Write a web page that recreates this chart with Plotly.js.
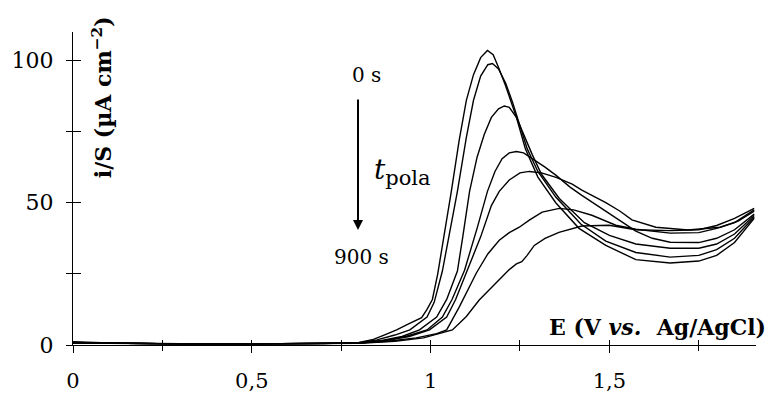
<!DOCTYPE html>
<html>
<head>
<meta charset="utf-8">
<script src="https://cdn.plot.ly/plotly-3.0.1.min.js"></script>
<style>html,body{margin:0;padding:0;background:#fff;}#chart{width:772px;height:394px;}</style>
</head>
<body>
<div id="chart"></div>
<script>
// Potential E (V vs Ag/AgCl) and current density i/S (µA cm-2), one pair per polarisation time
const e0s   = [0, 0.03, 0.1, 0.3, 0.5, 0.7, 0.8, 0.84, 0.87, 0.905, 0.94, 0.975, 0.99, 1.005, 1.02, 1.04, 1.058, 1.08, 1.10, 1.12, 1.14, 1.159, 1.175, 1.19, 1.21, 1.24, 1.265, 1.30, 1.35, 1.415, 1.49, 1.574, 1.67, 1.75, 1.80, 1.85, 1.905];
const i0s   = [1.2, 1.0, 0.7, 0.5, 0.4, 0.5, 0.9, 2.0, 3.5, 5.3, 7.5, 9.6, 12.5, 16, 25, 40, 54, 72, 86, 95, 101, 103.5, 102, 97.5, 91, 80, 69, 59, 50, 41, 35, 30, 28.8, 29.5, 31.5, 36, 44.5];

const e2    = [0, 0.1, 0.3, 0.5, 0.7, 0.8, 0.85, 0.9, 0.942, 0.99, 1.01, 1.033, 1.055, 1.075, 1.10, 1.12, 1.14, 1.16, 1.173, 1.19, 1.21, 1.23, 1.25, 1.27, 1.30, 1.35, 1.42, 1.49, 1.574, 1.67, 1.75, 1.80, 1.85, 1.905];
const i2    = [0.9, 0.6, 0.4, 0.4, 0.5, 0.8, 1.8, 3.5, 5.3, 9.8, 15, 26, 40, 54, 73, 86, 94.5, 98.5, 98.9, 97, 92, 85, 77, 69, 61, 52, 42.5, 36.5, 32.5, 30.9, 31.5, 33.5, 37.5, 45];

const e3    = [0, 0.1, 0.3, 0.5, 0.7, 0.8, 0.86, 0.92, 0.969, 1.017, 1.045, 1.075, 1.09, 1.109, 1.13, 1.15, 1.17, 1.19, 1.206, 1.22, 1.24, 1.26, 1.284, 1.31, 1.36, 1.43, 1.50, 1.574, 1.67, 1.75, 1.80, 1.85, 1.905];
const i3    = [0.8, 0.6, 0.4, 0.4, 0.5, 0.7, 1.5, 3.0, 5.3, 9.8, 16, 26, 38, 54, 66, 74, 80, 83, 84, 83.5, 80, 74, 67, 60, 51.5, 43, 38.5, 35.5, 34, 34, 35.5, 39, 45.5];

const e4    = [0, 0.1, 0.3, 0.5, 0.7, 0.8, 0.87, 0.93, 0.99, 1.033, 1.06, 1.095, 1.13, 1.159, 1.18, 1.20, 1.22, 1.24, 1.26, 1.284, 1.32, 1.351, 1.39, 1.423, 1.46, 1.50, 1.574, 1.62, 1.67, 1.75, 1.80, 1.85, 1.905];
const i4    = [0.8, 0.6, 0.4, 0.4, 0.5, 0.7, 1.5, 3, 5.3, 9.8, 16, 26.3, 41, 54, 61, 65.5, 67.5, 68, 67.5, 65.6, 62.5, 59.6, 55.5, 52.6, 49.5, 46.3, 40, 37.5, 36.1, 36, 37.5, 40.5, 46];

const e5    = [0, 0.1, 0.3, 0.5, 0.7, 0.8, 0.87, 0.94, 0.997, 1.045, 1.07, 1.103, 1.14, 1.17, 1.192, 1.22, 1.25, 1.276, 1.31, 1.351, 1.396, 1.423, 1.46, 1.49, 1.53, 1.563, 1.63, 1.72, 1.81, 1.86, 1.905];
const i5    = [0.8, 0.6, 0.4, 0.4, 0.5, 0.7, 1.5, 3, 5.3, 9.8, 16, 26.3, 38, 49, 54, 58, 60.5, 61, 60.5, 58.9, 56.5, 54.4, 52, 50, 47, 44, 41.4, 40.4, 41.4, 43.5, 47];

const e6    = [0, 0.1, 0.3, 0.5, 0.7, 0.8, 0.88, 0.96, 1.017, 1.045, 1.08, 1.128, 1.16, 1.192, 1.22, 1.248, 1.276, 1.312, 1.36, 1.40, 1.451, 1.518, 1.574, 1.67, 1.75, 1.80, 1.85, 1.905];
const i6    = [0.8, 0.6, 0.4, 0.4, 0.5, 0.7, 1.3, 2.5, 4, 5.3, 13.3, 25.3, 32, 36.8, 39.5, 41.4, 43.9, 46.7, 48, 47.5, 45.6, 42.1, 40.7, 39.3, 39.5, 41, 43, 47.5];

const e900s = [0, 0.1, 0.3, 0.5, 0.7, 0.8, 0.9, 0.98, 1.061, 1.10, 1.136, 1.17, 1.192, 1.22, 1.24, 1.255, 1.27, 1.29, 1.32, 1.359, 1.423, 1.499, 1.574, 1.67, 1.75, 1.80, 1.85, 1.905];
const i900s = [0.8, 0.6, 0.4, 0.4, 0.5, 0.6, 1.3, 2.5, 5.3, 10, 15.8, 20, 22.8, 26.5, 28.5, 29.3, 31.5, 35, 37.5, 39.6, 41.8, 42.1, 40.5, 40.2, 40.5, 42, 44.5, 48];

const xTickVals  = [0, 0.5, 1, 1.5];
const xTickText  = ['0', '0,5', '1', '1,5'];
const xMinorVals = [0.25, 0.75, 1.25, 1.75];
const yTickVals  = [0, 50, 100];
const yTickText  = ['0', '50', '100'];
const yMinorVals = [25, 75];

const seriesE = [e0s, e2, e3, e4, e5, e6, e900s];
const seriesI = [i0s, i2, i3, i4, i5, i6, i900s];

const FONT = 'DejaVu Serif, Liberation Serif, serif';

const traces = seriesE.map((e, k) => ({
  x: e, y: seriesI[k], type: 'scatter', mode: 'lines',
  line: {color: '#000', width: 1.4}, hoverinfo: 'skip', showlegend: false
}));
// empty trace to carry the inner half of the crossing ticks
traces.push({x: [], y: [], xaxis: 'x2', yaxis: 'y2', type: 'scatter', mode: 'lines', showlegend: false});

const axisCommon = {showgrid: false, zeroline: false, color: '#000', linecolor: '#000', tickcolor: '#000', tickwidth: 1};

const layout = {
  width: 772, height: 394,
  margin: {l: 73, r: 16, t: 32, b: 49},
  paper_bgcolor: '#fff', plot_bgcolor: '#fff',
  font: {family: FONT, color: '#000', size: 21},
  xaxis: Object.assign({}, axisCommon, {
    range: [0, 1.91], showline: true, linewidth: 1.2,
    tickmode: 'array', tickvals: xTickVals, ticktext: xTickText,
    ticks: 'outside', ticklen: 7, ticklabelstandoff: 10,
    minor: {tickmode: 'array', tickvals: xMinorVals, ticks: 'outside', ticklen: 5, tickcolor: '#000', tickwidth: 1, showgrid: false},
    tickfont: {family: FONT, size: 21, color: '#000'}
  }),
  yaxis: Object.assign({}, axisCommon, {
    range: [0, 110], showline: true, linewidth: 1.2,
    tickmode: 'array', tickvals: yTickVals, ticktext: yTickText,
    ticks: 'outside', ticklen: 6, ticklabelstandoff: 8,
    minor: {tickmode: 'array', tickvals: yMinorVals, ticks: 'outside', ticklen: 6, tickcolor: '#000', tickwidth: 1, showgrid: false},
    tickfont: {family: FONT, size: 22, color: '#000'}
  }),
  xaxis2: Object.assign({}, axisCommon, {
    overlaying: 'x', matches: 'x', anchor: 'y2', range: [0, 1.91], showline: false,
    tickmode: 'array', tickvals: xTickVals.concat(xMinorVals), ticks: 'inside', ticklen: 5, showticklabels: false
  }),
  yaxis2: Object.assign({}, axisCommon, {
    overlaying: 'y', matches: 'y', anchor: 'x2', range: [0, 110], showline: false,
    tickmode: 'array', tickvals: yTickVals.concat(yMinorVals), ticks: 'inside', ticklen: 8, showticklabels: false
  }),
  annotations: [
    {xref: 'paper', yref: 'paper', x: 0.0425, y: 0.792, xanchor: 'center', yanchor: 'middle',
     textangle: -90, showarrow: false, text: '<b>i/S (µA cm<sup>−2</sup>)</b>',
     font: {family: FONT, size: 22, color: '#000'}},
    {xref: 'paper', yref: 'paper', x: 1.0176, y: 0.058, xanchor: 'right', yanchor: 'middle',
     showarrow: false, text: '<b>E (V <i>vs.</i>&nbsp; Ag/AgCl)</b>',
     font: {family: FONT, size: 22, color: '#000'}},
    {xref: 'x', yref: 'y', x: 0.822, y: 94.9, xanchor: 'center', yanchor: 'middle',
     showarrow: false, text: '0 s', font: {family: FONT, size: 20, color: '#000'}},
    {xref: 'x', yref: 'y', x: 0.808, y: 30.9, xanchor: 'center', yanchor: 'middle',
     showarrow: false, text: '900 s', font: {family: FONT, size: 20, color: '#000'}},
    {xref: 'x', yref: 'y', x: 0.836, y: 61, xanchor: 'left', yanchor: 'middle',
     showarrow: false, text: '<i>t</i><sub><span style="font-size:21px">pola</span></sub>', font: {family: FONT, size: 28, color: '#000'}},
    {xref: 'x', yref: 'y', axref: 'x', ayref: 'y', x: 0.797, y: 40.4, ax: 0.797, ay: 86.8,
     showarrow: true, arrowhead: 2, arrowsize: 1, arrowwidth: 2, arrowcolor: '#000', text: ''}
  ]
};

Plotly.newPlot('chart', traces, layout, {displayModeBar: false, staticPlot: true});
</script>
</body>
</html>
